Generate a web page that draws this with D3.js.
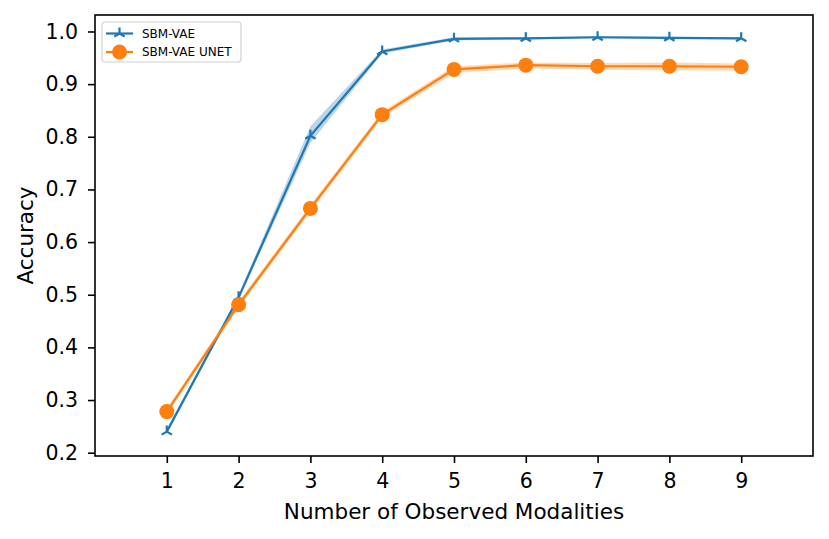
<!DOCTYPE html>
<html lang="en">

<head>
  <meta charset='utf-8'>
  <script src='https://cdn.jsdelivr.net/npm/d3@7'></script>
  <title>Accuracy vs observed modalities</title>
  <style>
    body {
      margin: 0;
      background: #fff;
    }

    svg text {
      font-family: 'DejaVu Sans', sans-serif;
      fill: #000;
    }

    .axis path,
    .axis line {
      stroke: #000;
      stroke-width: 1.6px;
    }
  </style>
</head>

<body>
  <div id='chart'></div>
  <script>
    // Values.

    var modalities = [1, 2, 3, 4, 5, 6, 7, 8, 9];
    var yTicks = [0.2, 0.3, 0.4, 0.5, 0.6, 0.7, 0.8, 0.9, 1.0];

    var vaeMean = [0.240, 0.495, 0.802, 0.962, 0.986, 0.987, 0.989, 0.988, 0.987];
    var vaeLow = [0.236, 0.490, 0.788, 0.958, 0.983, 0.985, 0.987, 0.986, 0.985];
    var vaeHigh = [0.245, 0.500, 0.820, 0.966, 0.989, 0.989, 0.991, 0.990, 0.989];

    var unetMean = [0.278, 0.481, 0.664, 0.842, 0.928, 0.936, 0.934, 0.934, 0.933];
    var unetLow = [0.272, 0.475, 0.657, 0.836, 0.921, 0.930, 0.928, 0.926, 0.926];
    var unetHigh = [0.284, 0.487, 0.671, 0.848, 0.934, 0.941, 0.940, 0.941, 0.939];

    var seriesNames = ['SBM-VAE', 'SBM-VAE UNET'];

    var width = 829,
      height = 539;

    var margin = {
      top: 15,
      right: 16,
      bottom: 83,
      left: 95
    };

    var svg = d3.select('#chart')
      .append('svg')
      .attr('width', width)
      .attr('height', height);

    var xScale = d3.scaleLinear()
      .domain([0, 10])
      .range([margin.left, width - margin.right]);

    var yScale = d3.scaleLinear()
      .domain([0.1937, 1.0313])
      .range([height - margin.bottom, margin.top]);

    // Build one row per point for each series.

    function rows(mean, low, high) {
      return modalities.map(function(m, i) {
        return {
          x: m,
          y: mean[i],
          lo: low[i],
          hi: high[i]
        };
      });
    }

    var series = [{
        name: seriesNames[0],
        color: '#1f77b4',
        marker: 'tri',
        data: rows(vaeMean, vaeLow, vaeHigh)
      },
      {
        name: seriesNames[1],
        color: '#ff7f0e',
        marker: 'circle',
        data: rows(unetMean, unetLow, unetHigh)
      }
    ];

    var area = d3.area()
      .x(function(d) {
        return xScale(d.x);
      })
      .y0(function(d) {
        return yScale(d.lo);
      })
      .y1(function(d) {
        return yScale(d.hi);
      });

    var line = d3.line()
      .x(function(d) {
        return xScale(d.x);
      })
      .y(function(d) {
        return yScale(d.y);
      });

    // Tri-up marker, three arms from the center.

    var arm = 6;
    var triPath = 'M0,0L0,' + (-arm) +
      'M0,0L' + (-arm * 0.866) + ',' + (arm * 0.5) +
      'M0,0L' + (arm * 0.866) + ',' + (arm * 0.5);

    function drawMarker(g, s, r) {
      if (s.marker === 'circle') {
        g.append('circle')
          .attr('r', r || 7.5)
          .attr('fill', s.color);
      } else {
        g.append('path')
          .attr('d', triPath)
          .attr('fill', 'none')
          .attr('stroke', s.color)
          .attr('stroke-width', 2.2);
      }
    }

    var plot = svg.append('g');

    // Bands first, then lines and markers on top.

    plot.selectAll('.band')
      .data(series)
      .enter()
      .append('path')
      .attr('class', 'band')
      .attr('d', function(s) {
        return area(s.data);
      })
      .attr('fill', function(s) {
        return s.color;
      })
      .attr('fill-opacity', 0.3);

    series.forEach(function(s) {
      plot.append('path')
        .attr('d', line(s.data))
        .attr('fill', 'none')
        .attr('stroke', s.color)
        .attr('stroke-width', 2.2);

      plot.selectAll(null)
        .data(s.data)
        .enter()
        .append('g')
        .attr('transform', function(d) {
          return 'translate(' + xScale(d.x) + ',' + yScale(d.y) + ')';
        })
        .each(function() {
          drawMarker(d3.select(this), s);
        });
    });

    // Axes.

    svg.append('g')
      .attr('class', 'axis')
      .attr('transform', 'translate(0,' + (height - margin.bottom) + ')')
      .call(d3.axisBottom(xScale)
        .tickValues(modalities)
        .tickSize(7)
        .tickPadding(10)
        .tickFormat(d3.format('d')))
      .call(function(g) {
        g.select('.domain').remove();
        g.selectAll('text').style('font-size', '20.5px');
      });

    svg.append('g')
      .attr('class', 'axis')
      .attr('transform', 'translate(' + margin.left + ',0)')
      .call(d3.axisLeft(yScale)
        .tickValues(yTicks)
        .tickSize(7)
        .tickPadding(10)
        .tickFormat(d3.format('.1f')))
      .call(function(g) {
        g.select('.domain').remove();
        g.selectAll('text').style('font-size', '20.5px');
      });

    // Frame around the plot area.

    svg.append('rect')
      .attr('x', margin.left)
      .attr('y', margin.top)
      .attr('width', width - margin.left - margin.right)
      .attr('height', height - margin.top - margin.bottom)
      .attr('fill', 'none')
      .attr('stroke', '#000')
      .attr('stroke-width', 1.6);

    // Axis titles.

    svg.append('text')
      .attr('x', (margin.left + width - margin.right) / 2)
      .attr('y', 519)
      .attr('text-anchor', 'middle')
      .style('font-size', '21.5px')
      .text('Number of Observed Modalities');

    svg.append('text')
      .attr('transform', 'translate(33,' + ((margin.top + height - margin.bottom) / 2) + ') rotate(-90)')
      .attr('text-anchor', 'middle')
      .style('font-size', '21.5px')
      .text('Accuracy');

    // Legend.

    var legend = svg.append('g')
      .attr('transform', 'translate(102,22)');

    legend.append('rect')
      .attr('width', 139)
      .attr('height', 40)
      .attr('rx', 3)
      .attr('fill', '#fff')
      .attr('fill-opacity', 0.8)
      .attr('stroke', '#d0d0d0')
      .attr('stroke-width', 1.2);

    var entries = legend.selectAll('.entry')
      .data(series)
      .enter()
      .append('g')
      .attr('class', 'entry')
      .attr('transform', function(d, i) {
        return 'translate(0,' + (11.5 + i * 18.5) + ')';
      });

    entries.append('line')
      .attr('x1', 4)
      .attr('x2', 31)
      .attr('stroke', function(d) {
        return d.color;
      })
      .attr('stroke-width', 2.2);

    entries.each(function(s) {
      var g = d3.select(this).append('g').attr('transform', 'translate(17.5,0)');
      drawMarker(g, s);
    });

    entries.append('text')
      .attr('x', 40)
      .attr('dy', '0.36em')
      .style('font-size', '12px')
      .text(function(d) {
        return d.name;
      });
  </script>
</body>

</html>
